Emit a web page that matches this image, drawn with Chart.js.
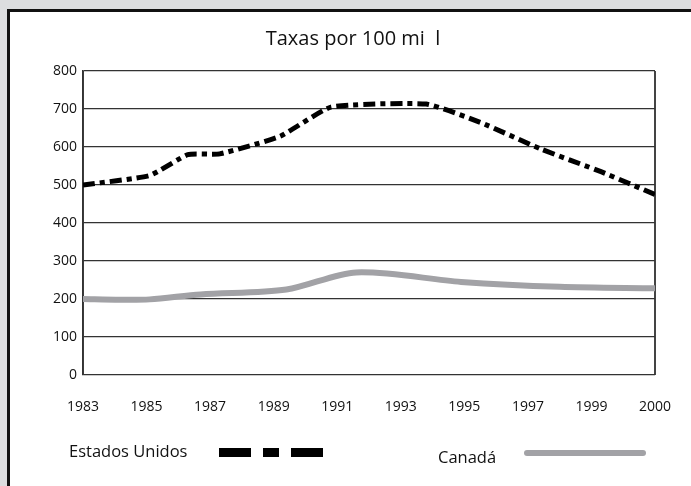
<!DOCTYPE html>
<html>
<head>
<meta charset="utf-8">
<script src="https://cdn.jsdelivr.net/npm/chart.js@4"></script>
<style>
    html, body { margin: 0; padding: 0; background: #dcdddf; }
    #frame {
        position: absolute; left: 7px; top: 9px; width: 700px; height: 500px;
        background: #fff; border-left: 3px solid #111; border-top: 3px solid #111;
    }
    #wrap { position: absolute; left: 0; top: 0; width: 691px; height: 486px; }
</style>
</head>
<body>
<div id="frame"></div>
<div id="wrap"><canvas id="taxChart" width="691" height="486"></canvas></div>
<script>
// Tick labels along the bottom (evenly spaced, as in the picture)
const yearLabels = ['1983', '1985', '1987', '1989', '1991', '1993', '1995', '1997', '1999', '2000'];

// Line vertices, x given as position along the year axis (0 = 1983 ... 9 = 2000)
const usPos    = [0, 1.05, 1.65, 2.15, 3.1, 3.9, 5.4, 6.25, 7.2, 8.15, 9];
const usValues = [500, 525, 580, 582, 628, 705, 713, 665, 595, 535, 475];

const caPos    = [0, 0.58, 1.05, 1.85, 3.2, 4.3, 5.95, 7.5, 9];
const caValues = [200, 198, 199, 212, 225, 270, 245, 232, 228];

const yTicks = [0, 100, 200, 300, 400, 500, 600, 700, 800];

const FONT = '"Open Sans", "DejaVu Sans", sans-serif';

function toPoints(xs, ys) {
    return xs.map((x, i) => ({ x: x, y: ys[i] }));
}

// Title and legend drawn on the canvas: legend text first, then the line sample
const textPlugin = {
    id: 'titleAndLegend',
    afterDraw(chart) {
        const ctx = chart.ctx;
        ctx.save();
        ctx.fillStyle = '#111';
        ctx.textBaseline = 'middle';

        ctx.font = '20px ' + FONT;
        ctx.textAlign = 'center';
        ctx.fillText('Taxas por 100 mi  l', 353, 39);

        ctx.font = '16.5px ' + FONT;
        ctx.textAlign = 'left';
        ctx.fillText('Estados Unidos', 69, 452);
        ctx.fillText('Canadá', 438, 458);

        // dashed sample
        ctx.fillStyle = '#000';
        ctx.fillRect(219, 448, 32, 9);
        ctx.fillRect(263, 448, 16, 9);
        ctx.fillRect(291, 448, 32, 9);

        // grey sample
        ctx.strokeStyle = '#a2a2a6';
        ctx.lineWidth = 6;
        ctx.lineCap = 'round';
        ctx.beginPath();
        ctx.moveTo(527, 453);
        ctx.lineTo(643, 453);
        ctx.stroke();
        ctx.restore();
    }
};

new Chart(document.getElementById('taxChart'), {
    type: 'line',
    data: {
        datasets: [
            {
                label: 'Estados Unidos',
                data: toPoints(usPos, usValues),
                borderColor: '#000',
                borderWidth: 5,
                borderDash: [12, 5, 5, 5],
                pointRadius: 0,
                tension: 0.15,
                fill: false
            },
            {
                label: 'Canadá',
                data: toPoints(caPos, caValues),
                borderColor: '#a2a2a6',
                borderWidth: 6,
                borderCapStyle: 'round',
                borderJoinStyle: 'round',
                pointRadius: 0,
                tension: 0.3,
                fill: false
            }
        ]
    },
    options: {
        responsive: false,
        animation: false,
        layout: { padding: { left: 0, right: 36, top: 71, bottom: 0 } },
        plugins: {
            legend: { display: false },
            tooltip: { enabled: false },
            title: { display: false }
        },
        scales: {
            x: {
                type: 'linear',
                min: 0,
                max: yearLabels.length - 1,
                afterBuildTicks(scale) {
                    scale.ticks = yearLabels.map((_, i) => ({ value: i }));
                },
                ticks: {
                    callback: (v) => yearLabels[v],
                    color: '#111',
                    font: { family: FONT, size: 14 },
                    padding: 24,
                    maxRotation: 0
                },
                grid: {
                    drawTicks: false,
                    color: (c) => (c.index === 0 || c.index === yearLabels.length - 1) ? '#444' : 'rgba(0,0,0,0)',
                    lineWidth: 2
                },
                border: { display: false },
                afterFit(scale) {
                    scale.height = 111;
                    scale.paddingLeft = 0;
                    scale.paddingRight = 0;
                }
            },
            y: {
                min: 0,
                max: 800,
                afterBuildTicks(scale) {
                    scale.ticks = yTicks.map(v => ({ value: v }));
                },
                ticks: {
                    color: '#111',
                    font: { family: FONT, size: 14 },
                    padding: 6
                },
                grid: { drawTicks: false, color: '#333', lineWidth: 1.3 },
                border: { color: '#333', width: 1.5 },
                afterFit(scale) { scale.width = 83; }
            }
        }
    },
    plugins: [textPlugin]
});
</script>
</body>
</html>
